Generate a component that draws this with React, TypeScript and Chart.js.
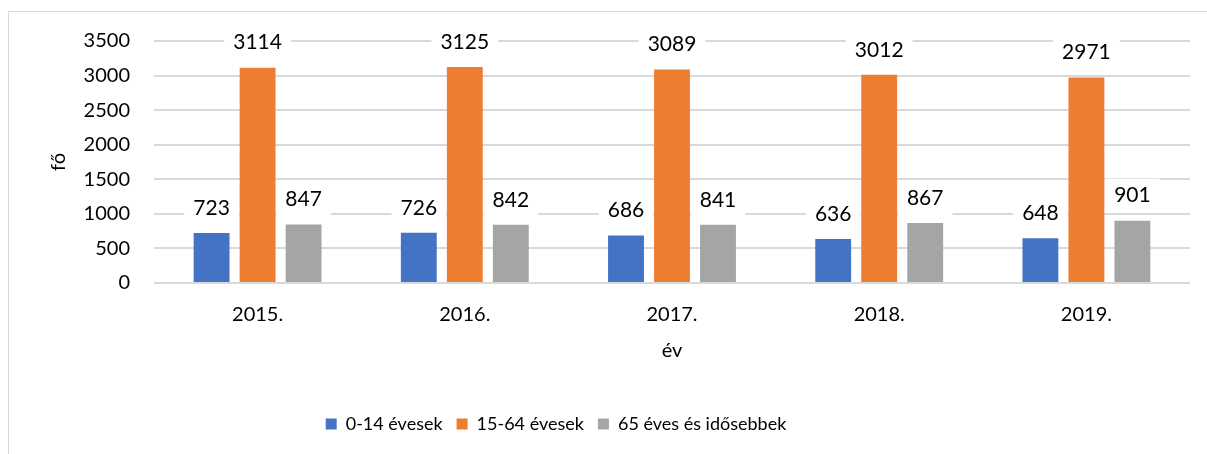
import React, { useEffect, useRef } from "react";
import { Chart, registerables } from "chart.js";

Chart.register(...registerables);

const categories = ["2015.", "2016.", "2017.", "2018.", "2019."];
const seriesNames = ["0-14 évesek", "15-64 évesek", "65 éves és idősebbek"];
const youngValues = [723, 726, 686, 636, 648];
const workingValues = [3114, 3125, 3089, 3012, 2971];
const elderValues = [847, 842, 841, 867, 901];
const seriesColors = ["#4472C4", "#ED7D31", "#A5A5A5"];
const yTicks = [0, 500, 1000, 1500, 2000, 2500, 3000, 3500];
const xTitle = "év";
const yTitle = "fő";

const FONT = "Lato, 'Open Sans', sans-serif";
const FS = 20;
const LFS = 21;

const valueLabels = {
  id: "valueLabels",
  beforeDraw(chart: any) {
    const lg = chart.legend;
    if (lg) {
      lg.left = 0;
      lg.right = 1112;
    }
  },
  beforeDatasetsDraw(chart: any) {
    const ctx = chart.ctx;
    ctx.save();
    ctx.font = `${LFS}px ${FONT}`;
    chart.data.datasets.forEach((ds: any, di: number) => {
      const meta = chart.getDatasetMeta(di);
      meta.data.forEach((bar: any, i: number) => {
        const txt = String(ds.data[i]);
        const w = ctx.measureText(txt).width + 18;
        const cy = bar.y - 25;
        ctx.fillStyle = "#ffffff";
        ctx.fillRect(bar.x - w / 2, cy - 17, w, 34);
      });
    });
    ctx.restore();
  },
  afterDatasetsDraw(chart: any) {
    const ctx = chart.ctx;
    ctx.save();
    ctx.font = `${LFS}px ${FONT}`;
    ctx.fillStyle = "#000000";
    ctx.textAlign = "center";
    ctx.textBaseline = "middle";
    chart.data.datasets.forEach((ds: any, di: number) => {
      const meta = chart.getDatasetMeta(di);
      meta.data.forEach((bar: any, i: number) => {
        ctx.fillText(String(ds.data[i]), bar.x, bar.y - 25);
      });
    });
    ctx.restore();
  },
};

export default function App() {
  const ref = useRef<HTMLCanvasElement | null>(null);
  useEffect(() => {
    if (!ref.current) return;
    const values = [youngValues, workingValues, elderValues];
    const chart = new Chart(ref.current, {
      type: "bar",
      data: {
        labels: categories,
        datasets: seriesNames.map((name, i) => ({
          label: name,
          data: values[i],
          backgroundColor: seriesColors[i],
          borderWidth: 0,
          categoryPercentage: 0.666,
          barPercentage: 0.78,
        })),
      },
      options: {
        responsive: false,
        animation: false,
        devicePixelRatio: 1,
        layout: { padding: { left: 0, right: 17, top: 41, bottom: 11 } },
        plugins: {
          legend: {
            position: "bottom",
            labels: {
              boxWidth: 11,
              boxHeight: 11,
              padding: 14,
              color: "#000",
              font: { family: FONT, size: 18 },
            },
          },
          tooltip: { enabled: false },
        },
        scales: {
          x: {
            grid: { display: false, drawTicks: false },
            border: { display: false },
            ticks: { color: "#000", font: { family: FONT, size: FS }, padding: 20 },
            title: {
              display: true,
              text: xTitle,
              color: "#000",
              font: { family: FONT, size: FS },
              padding: { top: 10, bottom: 38 },
            },
            afterFit: (s: any) => {
              s.height = 118;
            },
          },
          y: {
            min: 0,
            max: 3500,
            afterBuildTicks: (s: any) => {
              s.ticks = yTicks.map((v) => ({ value: v }));
            },
            grid: { color: "#D9D9D9", lineWidth: 2, drawTicks: false },
            border: { display: false },
            ticks: {
              color: "#000",
              font: { family: FONT, size: FS },
              padding: 24,
              callback: (v: any) => String(v),
            },
            title: {
              display: true,
              text: yTitle,
              color: "#000",
              font: { family: FONT, size: FS },
              padding: { top: 47, bottom: 0 },
            },
            afterFit: (s: any) => {
              s.width = 154;
            },
          },
        },
      },
      plugins: [valueLabels],
    });
    return () => chart.destroy();
  }, []);

  return (
    <div style={{ position: "fixed", inset: 0, overflow: "hidden", background: "#fff" }}>
      <div
        style={{
          position: "absolute",
          left: 8,
          top: 11,
          width: 1300,
          height: 600,
          border: "1px solid #D9D9D9",
          boxSizing: "border-box",
        }}
      />
      <canvas
        ref={ref}
        width={1207}
        height={454}
        style={{ position: "absolute", left: 0, top: 0, width: 1207, height: 454 }}
      />
    </div>
  );
}
